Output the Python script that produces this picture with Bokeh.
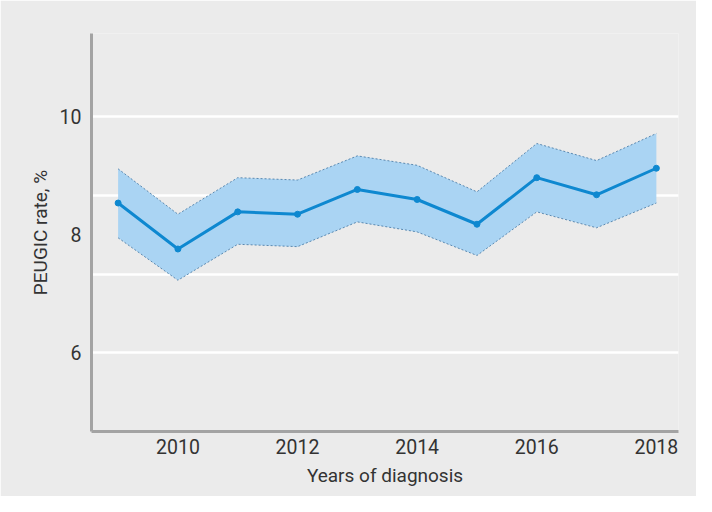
from bokeh.plotting import figure
from bokeh.models import FixedTicker, Range1d, ColumnDataSource
from bokeh.embed import file_html
from bokeh.resources import INLINE

years = [2009, 2010, 2011, 2012, 2013, 2014, 2015, 2016, 2017, 2018]
rate = [8.54, 7.76, 8.39, 8.35, 8.77, 8.60, 8.18, 8.97, 8.68, 9.13]
upper = [9.12, 8.35, 8.97, 8.93, 9.34, 9.18, 8.73, 9.55, 9.26, 9.72]
lower = [7.95, 7.23, 7.84, 7.80, 8.22, 8.05, 7.65, 8.39, 8.12, 8.54]
x_ticks = [2010, 2012, 2014, 2016, 2018]
y_ticks = [6, 8, 10]
grid_lines = [6, 7.333, 8.667, 10]

BG = "#ebebeb"
FONT = "Roboto"
TXT = "#333333"

src = ColumnDataSource(dict(x=years, y=rate, up=upper, lo=lower))

p = figure(width=696, height=496, output_backend="svg", toolbar_location=None,
           x_range=Range1d(2008.555, 2018.37), y_range=Range1d(4.664, 11.416),
           min_border_left=91, min_border_right=18, min_border_top=33, min_border_bottom=65)
p.background_fill_color = BG
p.border_fill_color = BG
p.outline_line_color = None

p.varea(x="x", y1="lo", y2="up", source=src, fill_color="#aad4f3", fill_alpha=1.0)
p.line(x="x", y="up", source=src, line_color="#4f7fa8", line_width=0.9, line_dash="2 2")
p.line(x="x", y="lo", source=src, line_color="#4f7fa8", line_width=0.9, line_dash="2 2")
p.line(x="x", y="y", source=src, line_color="#0e88d0", line_width=3)
p.scatter(x="x", y="y", source=src, size=6, fill_color="#0e88d0", line_color="#0e88d0")

p.xgrid.grid_line_color = None
p.ygrid.ticker = FixedTicker(ticks=grid_lines)
p.ygrid.grid_line_color = "white"
p.ygrid.grid_line_width = 2.5

for ax in (p.xaxis[0], p.yaxis[0]):
    ax.axis_line_color = "#a3a3a3"
    ax.axis_line_width = 3
    ax.major_tick_line_color = None
    ax.minor_tick_line_color = None
    ax.major_tick_out = 0
    ax.major_tick_in = 0
    ax.major_label_text_font = FONT
    ax.major_label_text_font_size = "19.5px"
    ax.major_label_text_color = TXT
    ax.axis_label_text_font = FONT
    ax.axis_label_text_font_size = "19px"
    ax.axis_label_text_font_style = "normal"
    ax.axis_label_text_color = TXT

p.xaxis.ticker = FixedTicker(ticks=x_ticks)
p.yaxis.ticker = FixedTicker(ticks=y_ticks)
p.xaxis.axis_label = "Years of diagnosis"
p.yaxis.axis_label = "PEUGIC rate, %"
p.xaxis.major_label_standoff = 7
p.yaxis.major_label_standoff = 10
p.xaxis.axis_label_standoff = 7
p.yaxis.axis_label_standoff = 5

open("out.html", "w").write(file_html(p, INLINE))
